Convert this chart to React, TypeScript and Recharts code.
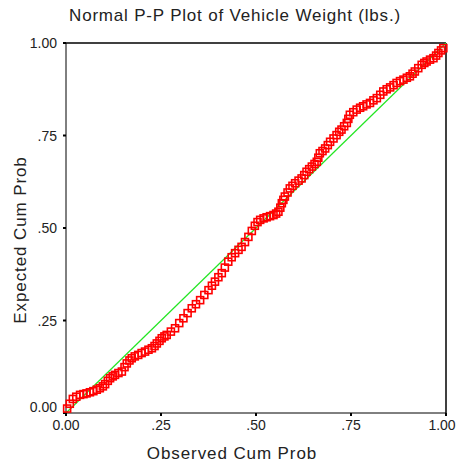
import React from 'react';
import { ScatterChart, Scatter, XAxis, YAxis, ReferenceLine } from 'recharts';

// observed cumulative probability (x) vs expected cumulative probability (y)
const observed = [
  0.003, 0.010, 0.018, 0.027, 0.037, 0.046, 0.054, 0.063, 0.072, 0.081,
  0.089, 0.097, 0.103, 0.110, 0.116, 0.123, 0.129, 0.138, 0.147, 0.154,
  0.160, 0.167, 0.173, 0.181, 0.190, 0.199, 0.208, 0.217, 0.226, 0.233,
  0.239, 0.246, 0.252, 0.259, 0.265, 0.276, 0.287, 0.298, 0.309, 0.320,
  0.331, 0.342, 0.353, 0.364, 0.375, 0.384, 0.392, 0.401, 0.410, 0.418,
  0.427, 0.436, 0.445, 0.454, 0.462, 0.471, 0.480, 0.489, 0.497, 0.504,
  0.511, 0.520, 0.528, 0.537, 0.546, 0.553, 0.559, 0.564, 0.568, 0.572,
  0.576, 0.583, 0.589, 0.596, 0.603, 0.612, 0.620, 0.627, 0.633, 0.640,
  0.647, 0.654, 0.660, 0.664, 0.668, 0.675, 0.682, 0.689, 0.695, 0.704,
  0.712, 0.719, 0.725, 0.732, 0.739, 0.743, 0.747, 0.756, 0.765, 0.774,
  0.782, 0.791, 0.800, 0.809, 0.818, 0.827, 0.835, 0.844, 0.853, 0.862,
  0.870, 0.879, 0.888, 0.897, 0.905, 0.912, 0.918, 0.927, 0.936, 0.943,
  0.949, 0.958, 0.967, 0.974, 0.980, 0.987, 0.993,
];
const expected = [
  0.012, 0.025, 0.038, 0.044, 0.049, 0.051, 0.053, 0.056, 0.059, 0.063,
  0.067, 0.072, 0.078, 0.087, 0.094, 0.099, 0.103, 0.108, 0.112, 0.124,
  0.134, 0.142, 0.148, 0.153, 0.157, 0.162, 0.166, 0.171, 0.175, 0.181,
  0.188, 0.195, 0.202, 0.207, 0.211, 0.220, 0.229, 0.243, 0.256, 0.270,
  0.283, 0.294, 0.305, 0.319, 0.332, 0.344, 0.355, 0.367, 0.378, 0.393,
  0.409, 0.421, 0.432, 0.441, 0.449, 0.462, 0.476, 0.492, 0.506, 0.516,
  0.522, 0.526, 0.529, 0.532, 0.535, 0.539, 0.544, 0.555, 0.567, 0.576,
  0.585, 0.596, 0.607, 0.614, 0.621, 0.628, 0.634, 0.643, 0.652, 0.659,
  0.666, 0.673, 0.679, 0.690, 0.702, 0.708, 0.715, 0.724, 0.733, 0.742,
  0.751, 0.760, 0.766, 0.775, 0.784, 0.795, 0.806, 0.813, 0.820, 0.825,
  0.829, 0.834, 0.838, 0.845, 0.851, 0.860, 0.869, 0.875, 0.880, 0.886,
  0.892, 0.897, 0.901, 0.906, 0.910, 0.917, 0.923, 0.932, 0.941, 0.946,
  0.950, 0.955, 0.959, 0.966, 0.973, 0.980, 0.986,
];

const ticks = [0, 0.25, 0.5, 0.75, 1];
const tickLabels = ['0.00', '.25', '.50', '.75', '1.00'];

const points = observed.map((x, i) => ({ x, y: expected[i] }));

const fmt = (v: number) => tickLabels[ticks.indexOf(v)] ?? String(v);

const font = '"Liberation Sans", Arial, sans-serif';
const textColor = '#222';

const Square = (props: any) => {
  const { cx, cy } = props;
  if (cx == null || cy == null) return null;
  return <rect x={cx - 3.5} y={cy - 3.5} width={7} height={7} fill="none" stroke="#ff0000" strokeWidth={1.6} />;
};

const XTick = (props: any) => {
  const { x, y, payload } = props;
  // last label would run past the right edge, nudge it in a bit
  const shift = payload.value === 1 ? -4 : 0;
  return (
    <text x={x + shift} y={y + 12} textAnchor="middle" fill={textColor} fontSize={14} fontFamily={font}>
      {fmt(payload.value)}
    </text>
  );
};

const YTick = (props: any) => {
  const { x, y, payload } = props;
  const shift = payload.value === 0 ? -6 : 0;
  return (
    <text x={x - 4} y={y + shift + 5} textAnchor="end" fill={textColor} fontSize={14} fontFamily={font}>
      {fmt(payload.value)}
    </text>
  );
};

export default function App() {
  return (
    <div style={{ position: 'absolute', left: 0, top: 0, width: 458, height: 470, background: '#fff', fontFamily: font }}>
      <ScatterChart width={458} height={470} margin={{ top: 43, right: 12, bottom: 0, left: 0 }}>
        <XAxis
          type="number"
          dataKey="x"
          domain={[0, 1]}
          ticks={ticks}
          height={57}
          stroke="#000"
          tickSize={3}
          tick={<XTick />}
          tickLine={{ stroke: '#000', strokeWidth: 2 }}
        />
        <YAxis
          type="number"
          dataKey="y"
          domain={[0, 1]}
          ticks={ticks}
          width={66}
          stroke="#000"
          tickSize={3}
          tick={<YTick />}
          tickLine={{ stroke: '#000', strokeWidth: 2 }}
        />
        <ReferenceLine x={1} stroke="#000" strokeWidth={1.5} />
        <ReferenceLine y={1} stroke="#000" strokeWidth={1.5} />
        <Scatter data={points} shape={<Square />} isAnimationActive={false} />
        <ReferenceLine segment={[{ x: 0, y: 0 }, { x: 1, y: 1 }]} stroke="#22e622" strokeWidth={1.2} />
      </ScatterChart>
      <svg width={458} height={470} style={{ position: 'absolute', left: 0, top: 0, pointerEvents: 'none' }}>
        <text x={235} y={21} textAnchor="middle" fontSize={17} letterSpacing={0.8} fill={textColor} fontFamily={font}>
          Normal P-P Plot of Vehicle Weight (lbs.)
        </text>
        <text x={232} y={459} textAnchor="middle" fontSize={17} letterSpacing={0.9} fill={textColor} fontFamily={font}>
          Observed Cum Prob
        </text>
        <text
          x={0}
          y={0}
          transform="translate(26, 240) rotate(-90)"
          textAnchor="middle"
          fontSize={17}
          letterSpacing={0.9}
          fill={textColor}
          fontFamily={font}
        >
          Expected Cum Prob
        </text>
      </svg>
    </div>
  );
}
